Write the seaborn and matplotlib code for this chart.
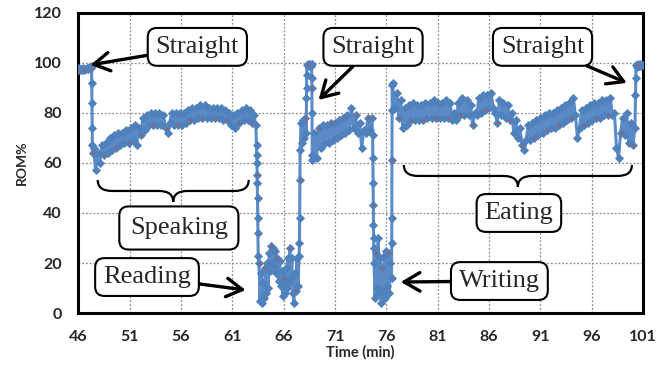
import numpy as np
import pandas as pd
import matplotlib
matplotlib.use("Agg")
import matplotlib.pyplot as plt
import seaborn as sns
from matplotlib.path import Path
from matplotlib.patches import PathPatch

# ---- data (time in min, ROM in %) ----
straight1_t = [46.0, 46.1, 46.2, 46.3, 46.4, 46.5, 46.6, 46.7, 46.8, 46.9, 47.0, 47.1, 47.2, 47.3]
straight1_rom = [97.2, 97.8, 97.0, 97.6, 97.3, 97.9, 97.1, 97.7, 97.4, 98.0, 97.6, 98.3, 98.0, 98.6]

speaking_t = [47.32, 47.34, 47.36, 47.38, 47.40,
              47.5, 47.7, 47.9, 48.1, 48.3, 48.5, 48.7, 48.9, 49.1, 49.3, 49.5, 49.7, 49.9,
              50.1, 50.3, 50.5, 50.7, 50.9, 51.1, 51.3, 51.5, 51.7, 51.9, 52.1, 52.3, 52.5,
              52.7, 52.9, 53.1, 53.3, 53.5, 53.7, 53.9, 54.1, 54.3, 54.5, 54.7, 54.9, 55.1,
              55.3, 55.5, 55.7, 55.9, 56.1, 56.3, 56.5, 56.7, 56.9, 57.1, 57.3, 57.5, 57.7,
              57.9, 58.1, 58.3, 58.5, 58.7, 58.9, 59.1, 59.3, 59.5, 59.7, 59.9, 60.1, 60.3,
              60.5, 60.7, 60.9, 61.1, 61.3, 61.5, 61.7, 61.9, 62.1, 62.3, 62.5, 62.7, 62.9,
              63.1, 63.3]
speaking_rom = [92, 84, 74, 67, 64,
                66, 57, 64, 60, 67, 63, 68, 64, 70, 65, 71, 66, 72,
                67, 72, 68, 73, 68, 74, 69, 75, 67, 74, 71, 78, 73,
                79, 75, 80, 75, 80, 75, 80, 75, 79, 74, 72, 76, 80,
                75, 80, 75, 80, 75, 80, 76, 81, 77, 82, 77, 82, 78,
                83, 78, 83, 78, 82, 78, 82, 78, 82, 78, 82, 77, 81,
                77, 80, 75, 79, 74, 80, 76, 81, 77, 82, 77, 81, 76,
                79, 75]

reading_t = [63.36, 63.38, 63.40, 63.42, 63.44, 63.46, 63.48, 63.50, 63.52,
             63.6, 63.7, 63.8, 63.9, 64.0, 64.1, 64.2, 64.3, 64.4, 64.5, 64.6, 64.7,
             64.8, 64.9, 65.0, 65.1, 65.2, 65.3, 65.4, 65.5, 65.6, 65.7, 65.8, 65.9,
             66.0, 66.1, 66.2, 66.3, 66.4, 66.5, 66.6, 66.7, 66.8, 66.9, 67.0, 67.1,
             67.2, 67.3, 67.4, 67.5]
reading_rom = [67, 63, 60, 55, 52, 46, 38, 32, 23,
               20, 5, 16, 4, 12, 6, 18, 8, 20, 10, 24, 17,
               27, 20, 26, 19, 25, 16, 22, 13, 21, 11, 17, 7,
               14, 8, 18, 10, 22, 12, 26, 14, 22, 8, 4, 16,
               9, 22, 11, 23]

straight2_t = [67.54, 67.56, 67.58, 67.60, 67.7, 67.8, 67.9, 68.0, 68.1, 68.2,
               68.22, 68.23, 68.24, 68.26, 68.35, 68.45, 68.55, 68.65, 68.72,
               68.74, 68.75, 68.76, 68.78]
straight2_rom = [28, 38, 53, 65, 76, 68, 77, 70, 78, 72,
                 86, 90, 95, 99, 99.5, 98.6, 99.6, 98.8, 99.4,
                 94, 90, 80, 63]

middle_t = [68.8, 69.0, 69.2, 69.4, 69.6, 69.8, 70.0, 70.2, 70.4, 70.6, 70.8, 71.0,
            71.2, 71.4, 71.6, 71.8, 72.0, 72.2, 72.4, 72.6, 72.8, 73.0, 73.2, 73.4,
            73.6, 73.8, 74.0, 74.2, 74.4, 74.6]
middle_rom = [61, 72, 62, 74, 66, 75, 68, 75, 68, 76, 69, 76,
              70, 77, 71, 78, 72, 79, 73, 82, 74, 79, 72, 76,
              66, 73, 72, 78, 73, 78]

writing_t = [74.66, 74.68, 74.70, 74.72, 74.74, 74.76, 74.78,
             74.8, 74.9, 75.0, 75.1, 75.2, 75.3, 75.4, 75.5, 75.6, 75.7, 75.8, 75.9,
             76.0, 76.1, 76.2, 76.3, 76.4, 76.5]
writing_rom = [71, 62, 52, 43, 35, 30, 26,
               20, 6, 24, 10, 30, 8, 22, 4, 18, 9, 23, 6,
               25, 11, 24, 8, 20, 14]

eating_t = [76.52, 76.53, 76.54, 76.55, 76.56,
            76.6, 76.8, 77.0, 77.2, 77.4, 77.6, 77.8, 78.0, 78.2, 78.4, 78.6, 78.8,
            79.0, 79.2, 79.4, 79.6, 79.8, 80.0, 80.2, 80.4, 80.6, 80.8, 81.0, 81.2,
            81.4, 81.6, 81.8, 82.0, 82.2, 82.4, 82.6, 82.8, 83.0, 83.2, 83.4, 83.6,
            83.8, 84.0, 84.2, 84.4, 84.6, 84.8, 85.0, 85.2, 85.4, 85.6, 85.8, 86.0,
            86.2, 86.4, 86.6, 86.8, 87.0, 87.2, 87.4, 87.6, 87.8, 88.0, 88.2, 88.4,
            88.6, 88.8, 89.0, 89.2, 89.4, 89.6, 89.8, 90.0, 90.2, 90.4, 90.6, 90.8,
            91.0, 91.2, 91.4, 91.6, 91.8, 92.0, 92.2, 92.4, 92.6, 92.8, 93.0, 93.2,
            93.4, 93.6, 93.8, 94.0, 94.2, 94.4, 94.6, 94.8, 95.0, 95.2, 95.4, 95.6,
            95.8, 96.0, 96.2, 96.4, 96.6, 96.8, 97.0, 97.2, 97.4, 97.6, 97.8, 98.0,
            98.2, 98.4, 98.6, 98.8, 99.0, 99.2, 99.4, 99.6, 99.8, 100.0, 100.2]
eating_rom = [28, 38, 61, 81, 91,
              92, 82, 88, 78, 85, 74, 82, 75, 83, 77, 84, 77,
              83, 77, 83, 77, 84, 78, 84, 78, 85, 78, 84, 78,
              84, 78, 85, 78, 84, 77, 80, 77, 84, 79, 86, 79,
              85, 79, 83, 75, 80, 79, 86, 80, 87, 81, 87, 82,
              88, 82, 80, 76, 85, 79, 84, 78, 83, 77, 80, 72,
              77, 70, 74, 67, 65, 69, 75, 69, 76, 70, 77, 71,
              78, 72, 79, 73, 80, 74, 80, 74, 81, 75, 82, 76,
              83, 77, 84, 78, 86, 79, 70, 74, 81, 75, 82, 76,
              83, 77, 84, 78, 84, 78, 85, 79, 85, 79, 86, 79,
              80, 66, 62, 72, 78, 71, 80, 68, 76, 67, 74]

straight3_t = [100.25, 100.27, 100.3, 100.4, 100.5, 100.6, 100.7, 100.8, 100.9, 101.0]
straight3_rom = [87, 94, 99, 98.5, 99.6, 98.8, 99.4, 98.7, 99.3, 99.0]

x_ticks = [46, 51, 56, 61, 66, 71, 76, 81, 86, 91, 96, 101]
y_ticks = [0, 20, 40, 60, 80, 100, 120]

df = pd.DataFrame({
    "time": straight1_t + speaking_t + reading_t + straight2_t + middle_t
            + writing_t + eating_t + straight3_t,
    "rom": straight1_rom + speaking_rom + reading_rom + straight2_rom + middle_rom
           + writing_rom + eating_rom + straight3_rom,
})

sns.set_style("white")
plt.rcParams['font.family'] = ['Lato', 'DejaVu Sans']

fig, ax = plt.subplots(figsize=(6.57, 3.67), dpi=100)
fig.subplots_adjust(left=0.119, right=0.979, bottom=0.147, top=0.965)

blue = "#4F81BD"
sns.lineplot(data=df, x="time", y="rom", sort=False, estimator=None, ax=ax,
             color="#5A8BC8", lw=2.2, marker="D", markersize=4.2, markeredgecolor=blue,
             markerfacecolor=blue, markeredgewidth=0.6, zorder=3)
sns.scatterplot(data=df.iloc[::6], x="time", y="rom", ax=ax, color="#C0504D",
                s=3, linewidth=0, zorder=4)

ax.set_xlim(46, 101)
ax.set_ylim(0, 120)
ax.set_xticks(x_ticks)
ax.set_yticks(y_ticks)
ax.grid(True, color="#8c8c8c", ls=(0, (1.5, 1.5)), lw=0.9)
ax.set_axisbelow(True)
for sp in ax.spines.values():
    sp.set_visible(True)
    sp.set_color("black")
    sp.set_linewidth(2.2)
ax.tick_params(length=0, labelsize=11.5, pad=12)
for lab in ax.get_xticklabels() + ax.get_yticklabels():
    lab.set_fontweight("bold")
ax.set_xlabel("Time (min)", fontsize=10.5, fontweight="bold", labelpad=1)
ax.set_ylabel("ROM%", fontsize=10, fontweight="bold", labelpad=4)


def brace(x0, x1, y_top, y_tip, r):
    xm = (x0 + x1) / 2
    ym = (y_top + y_tip) / 2
    verts = [(x0, y_top), (x0, ym), (x0 + r, ym), (xm - r, ym), (xm, ym), (xm, y_tip),
             (xm, ym), (xm + r, ym), (x1 - r, ym), (x1, ym), (x1, y_top)]
    codes = [Path.MOVETO, Path.CURVE3, Path.CURVE3, Path.LINETO, Path.CURVE3, Path.CURVE3,
             Path.CURVE3, Path.CURVE3, Path.LINETO, Path.CURVE3, Path.CURVE3]
    ax.add_patch(PathPatch(Path(verts, codes), fc="none", ec="black", lw=1.6,
                           zorder=5, clip_on=False))


brace(47.9, 62.6, 53.2, 44.4, 1.4)
brace(77.7, 99.9, 59.2, 50.4, 1.4)

serif = ['Liberation Serif', 'DejaVu Serif']
box = dict(boxstyle="round,pad=0.3,rounding_size=0.35", fc="white", ec="black", lw=1.5)
arrow = dict(arrowstyle="->,head_length=0.6,head_width=0.35", lw=2.4, color="black",
             shrinkA=0, shrinkB=0)
labels = [
    ("Straight", (57.6, 106.4), (47.2, 99.2)),
    ("Straight", (74.7, 106.4), (69.4, 85.2)),
    ("Straight", (91.2, 106.4), (99.4, 92.0)),
    ("Reading", (52.7, 14.4), (62.3, 9.2)),
    ("Writing", (87.0, 12.8), (77.4, 12.4)),
]
for txt, pos, tip in labels:
    ax.annotate(txt, xy=tip, xytext=pos, ha="center", va="center", fontsize=19,
                family=serif, bbox=box, arrowprops=arrow, zorder=6)

ax.text(55.8, 34.0, "Speaking", ha="center", va="center", fontsize=19, family=serif,
        bbox=dict(boxstyle="round,pad=0.4,rounding_size=0.35", fc="white", ec="black", lw=1.5),
        zorder=6)
ax.text(88.9, 40.0, "Eating", ha="center", va="center", fontsize=19, family=serif,
        bbox=box, zorder=6)

fig.savefig("out.png", dpi=100)
